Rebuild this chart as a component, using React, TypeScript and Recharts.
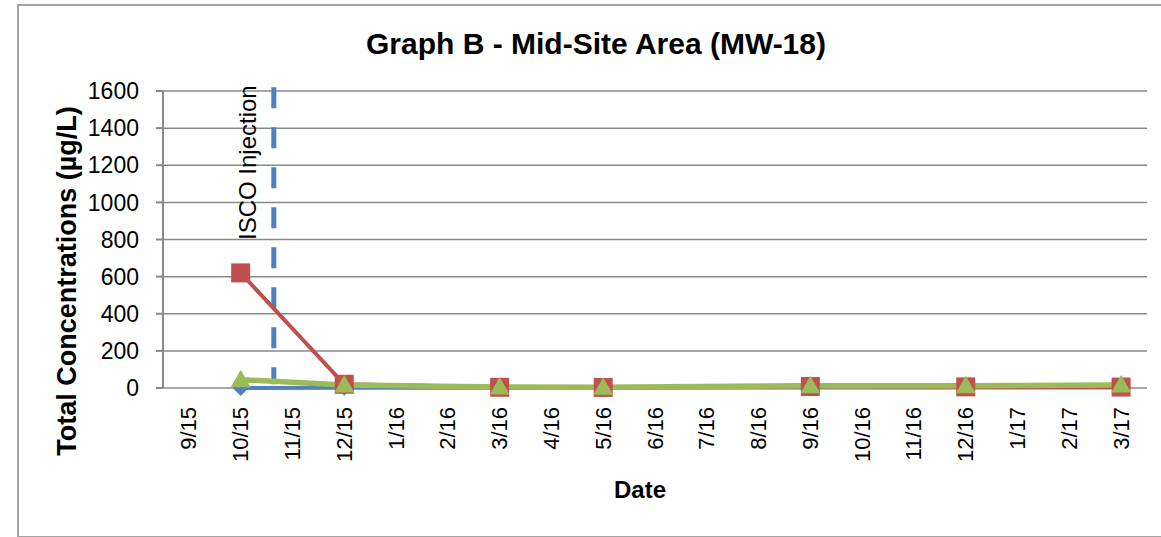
import * as React from 'react';
import {
	CartesianGrid,
	Line,
	LineChart,
	ReferenceLine,
	XAxis,
	YAxis,
} from 'recharts';

const months = [
	'9/15', '10/15', '11/15', '12/15', '1/16', '2/16', '3/16', '4/16', '5/16', '6/16',
	'7/16', '8/16', '9/16', '10/16', '11/16', '12/16', '1/17', '2/17', '3/17',
];
const seriesA = [null, 0, null, 2, null, null, 1, null, 1, null, null, null, 3, null, null, 3, null, null, 3];
const seriesB = [null, 620, null, 20, null, null, 4, null, 3, null, null, null, 8, null, null, 6, null, null, 5];
const seriesC = [null, 45, null, 16, null, null, 5, null, 4, null, null, null, 12, null, null, 12, null, null, 16];
const yTicks = [0, 200, 400, 600, 800, 1000, 1200, 1400, 1600];
// injection date, as months after start of 9/15
const injection = 2.14;

const font = '"Liberation Sans", Arial, sans-serif';
const gray = '#898989';
const blue = '#4F81BD';
const red = '#C0504D';
const green = '#9BBB59';

const data = months.map((m, i) => ({
	x: i + 0.5,
	month: m,
	a: seriesA[i],
	b: seriesB[i],
	c: seriesC[i],
}));
const boundaries = months.map((_, i) => i).concat([months.length]);
const centers = months.map((_, i) => i + 0.5);

function Diamond({cx, cy}: any) {
	if (cx == null || cy == null) return null;
	const r = 8;
	return <path d={`M${cx},${cy - r}L${cx + r},${cy}L${cx},${cy + r}L${cx - r},${cy}Z`} fill={blue}/>;
}

function Square({cx, cy}: any) {
	if (cx == null || cy == null) return null;
	const s = 9.5;
	return <rect x={cx - s} y={cy - s} width={s * 2} height={s * 2} fill={red}/>;
}

function Triangle({cx, cy}: any) {
	if (cx == null || cy == null) return null;
	const r = 10;
	return <path d={`M${cx},${cy - r}L${cx + r},${cy + r * 0.75}L${cx - r},${cy + r * 0.75}Z`} fill={green}/>;
}

function MonthTick({x, y, payload}: any) {
	const label = months[Math.floor(payload.value)];
	return (
		<text
			x={x}
			y={y}
			transform={`rotate(-90, ${x}, ${y})`}
			textAnchor="end"
			dominantBaseline="central"
			fontFamily={font}
			fontSize={22}
			fill="#000"
		>
			{label}
		</text>
	);
}

function InjectionLabel({viewBox}: any) {
	const x = viewBox.x - 26;
	const y = viewBox.y - 2;
	return (
		<text
			x={x}
			y={y}
			transform={`rotate(-90, ${x}, ${y})`}
			textAnchor="end"
			dominantBaseline="central"
			fontFamily={font}
			fontSize={24}
			fill="#000"
		>
			ISCO Injection
		</text>
	);
}

export default
function App() {
	return (
		<div style={{position: 'absolute', left: 0, top: 0, width: 1161, height: 537, overflow: 'hidden', background: '#fff'}}>
			<div style={{position: 'absolute', left: 17, top: 4, width: 1200, height: 530, border: '2px solid #a3a3a3'}}/>
			<div style={{position: 'absolute', left: 0, top: 0}}>
				<LineChart
					width={1161}
					height={537}
					data={data}
					margin={{top: 91, right: 14, left: 0, bottom: 0}}
				>
					<CartesianGrid vertical={false} stroke={gray} strokeWidth={1.5}/>
					<XAxis
						xAxisId="main"
						dataKey="x"
						type="number"
						domain={[0, months.length]}
						allowDataOverflow
						ticks={boundaries}
						tickFormatter={() => ''}
						height={0}
						tickSize={7}
						stroke={gray}
						strokeWidth={2}
						interval={0}
					/>
					<XAxis
						xAxisId="labels"
						dataKey="x"
						type="number"
						domain={[0, months.length]}
						allowDataOverflow
						ticks={centers}
						tick={<MonthTick/>}
						tickLine={false}
						axisLine={false}
						tickSize={0}
						tickMargin={19}
						height={149}
						interval={0}
					/>
					<YAxis
						domain={[0, 1600]}
						ticks={yTicks}
						width={163}
						tickSize={7}
						tickMargin={17}
						stroke={gray}
						strokeWidth={2}
						tick={{fill: '#000', fontSize: 23, fontFamily: font}}
						interval={0}
					/>
					<ReferenceLine
						xAxisId="main"
						segment={[{x: injection, y: 1620}, {x: injection, y: 20}]}
						ifOverflow="visible"
						stroke={blue}
						strokeWidth={5}
						strokeDasharray="21 19"
						label={<InjectionLabel/>}
					/>
					<Line
						xAxisId="main"
						dataKey="a"
						stroke={blue}
						strokeWidth={4}
						connectNulls
						dot={<Diamond/>}
						activeDot={false}
						isAnimationActive={false}
					/>
					<Line
						xAxisId="main"
						dataKey="b"
						stroke={red}
						strokeWidth={4}
						connectNulls
						dot={<Square/>}
						activeDot={false}
						isAnimationActive={false}
					/>
					<Line
						xAxisId="main"
						dataKey="c"
						stroke={green}
						strokeWidth={5.5}
						connectNulls
						dot={<Triangle/>}
						activeDot={false}
						isAnimationActive={false}
					/>
				</LineChart>
			</div>
			<div style={{position: 'absolute', left: 596, top: 44, transform: 'translate(-50%, -50%)', fontFamily: font, fontWeight: 'bold', fontSize: 30, whiteSpace: 'nowrap'}}>
				Graph B - Mid-Site Area (MW-18)
			</div>
			<div style={{position: 'absolute', left: 67, top: 281, transform: 'translate(-50%, -50%) rotate(-90deg)', fontFamily: font, fontWeight: 'bold', fontSize: 27, whiteSpace: 'nowrap'}}>
				Total Concentrations (µg/L)
			</div>
			<div style={{position: 'absolute', left: 640, top: 490, transform: 'translate(-50%, -50%)', fontFamily: font, fontWeight: 'bold', fontSize: 24, whiteSpace: 'nowrap'}}>
				Date
			</div>
		</div>
	);
}
